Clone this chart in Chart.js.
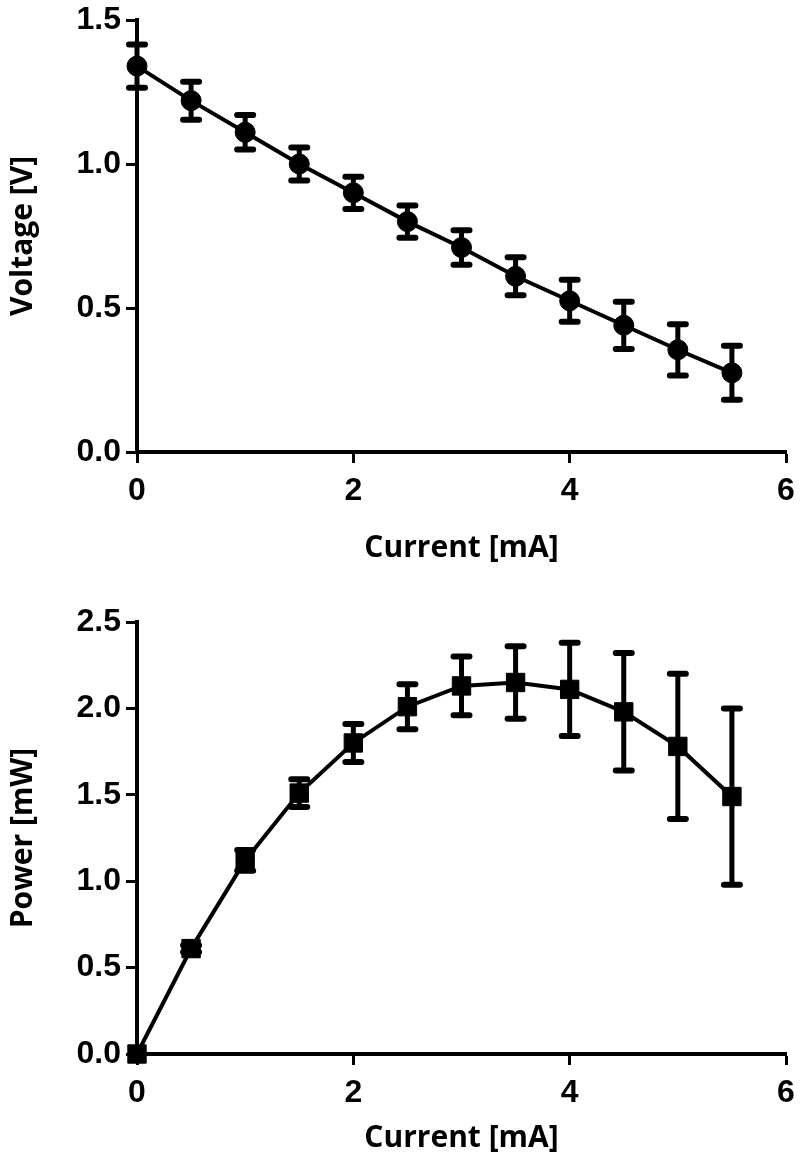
<!DOCTYPE html>
<html>
<head>
<meta charset="utf-8">
<script src="https://cdn.jsdelivr.net/npm/chart.js@4.4.1/dist/chart.umd.min.js"></script>
<style>
  html, body { margin: 0; padding: 0; background: #fff; }
  #top { position: absolute; left: 0; top: 0; }
  #bottom { position: absolute; left: 0; top: 580px; }
</style>
</head>
<body>
<canvas id="top" width="800" height="580"></canvas>
<canvas id="bottom" width="800" height="585"></canvas>
<script>
// data
const current = [0, 0.5, 1, 1.5, 2, 2.5, 3, 3.5, 4, 4.5, 5, 5.5];
const voltage = [1.34, 1.22, 1.11, 1.00, 0.90, 0.80, 0.71, 0.61, 0.525, 0.44, 0.355, 0.275];
const voltageErr = [0.075, 0.066, 0.06, 0.057, 0.056, 0.056, 0.06, 0.066, 0.073, 0.082, 0.089, 0.094];
const power = [0, 0.61, 1.12, 1.51, 1.80, 2.01, 2.13, 2.15, 2.11, 1.98, 1.78, 1.49];
const powerErr = [0, 0.02, 0.06, 0.08, 0.11, 0.13, 0.17, 0.21, 0.27, 0.34, 0.42, 0.51];
const voltageTicks = [0, 0.5, 1.0, 1.5];
const powerTicks = [0, 0.5, 1.0, 1.5, 2.0, 2.5];
const currentTicks = [0, 2, 4, 6];

const tickFont = { family: 'Liberation Sans, Arial, sans-serif', weight: 'bold', size: 32 };
const titleFont = { family: 'Open Sans, sans-serif', weight: 'bold', size: 30 };

// error bars drawn with the chart's own scales
const errorBars = {
  id: 'errorBars',
  afterDatasetsDraw(chart, args, opts) {
    const ctx = chart.ctx;
    const xs = chart.scales.x, ys = chart.scales.y;
    const pts = chart.data.datasets[0].data;
    ctx.save();
    ctx.strokeStyle = '#000';
    opts.err.forEach((e, i) => {
      if (!e) return;
      const px = xs.getPixelForValue(pts[i].x);
      const top = ys.getPixelForValue(pts[i].y + e);
      const bot = ys.getPixelForValue(pts[i].y - e);
      ctx.lineCap = 'butt';
      ctx.lineWidth = 5;
      ctx.beginPath(); ctx.moveTo(px, top); ctx.lineTo(px, bot); ctx.stroke();
      ctx.lineCap = 'round';
      ctx.lineWidth = 6;
      ctx.beginPath();
      ctx.moveTo(px - 8, top); ctx.lineTo(px + 8, top);
      ctx.moveTo(px - 8, bot); ctx.lineTo(px + 8, bot);
      ctx.stroke();
    });
    ctx.restore();
  }
};

function makeChart(id, ys, err, yTicks, yTitle, pointStyle, radius, padTop, xHeight, xTitlePad) {
  const yMax = yTicks[yTicks.length - 1];
  new Chart(document.getElementById(id), {
    type: 'line',
    data: {
      datasets: [{
        data: current.map((c, i) => ({ x: c, y: ys[i] })),
        borderColor: '#000',
        borderWidth: 4,
        backgroundColor: '#000',
        pointStyle: pointStyle,
        pointRadius: radius,
        pointBackgroundColor: '#000',
        pointBorderColor: '#000',
        pointBorderWidth: 1,
        tension: 0,
        clip: false
      }]
    },
    options: {
      responsive: false,
      animation: false,
      layout: { padding: { top: padTop, right: 14, left: 0, bottom: 0 } },
      plugins: {
        legend: { display: false },
        tooltip: { enabled: false },
        errorBars: { err: err }
      },
      scales: {
        x: {
          type: 'linear', min: 0, max: 6,
          afterFit(s) { s.height = xHeight; s.paddingLeft = 0; s.paddingRight = 0; },
          afterBuildTicks(s) { s.ticks = currentTicks.map(v => ({ value: v })); },
          ticks: { color: '#000', font: tickFont, padding: 9 },
          grid: { drawOnChartArea: false, tickLength: 11, tickWidth: 3, tickColor: '#000' },
          border: { color: '#000', width: 4 },
          title: { display: true, text: 'Current [mA]', color: '#000', font: titleFont, padding: { bottom: xTitlePad } }
        },
        y: {
          type: 'linear', min: 0, max: yMax,
          afterFit(s) { s.width = 137; s.paddingTop = 0; s.paddingBottom = 0; },
          afterBuildTicks(s) { s.ticks = yTicks.map(v => ({ value: v })); },
          ticks: { color: '#000', font: tickFont, padding: 5, callback: v => v.toFixed(1) },
          grid: { drawOnChartArea: false, tickLength: 11, tickWidth: 3, tickColor: '#000' },
          border: { color: '#000', width: 4 },
          title: { display: true, text: yTitle, color: '#000', font: titleFont, padding: { top: 5 } }
        }
      }
    },
    plugins: [errorBars]
  });
}

makeChart('top', voltage, voltageErr, voltageTicks, 'Voltage [V]', 'circle', 10, 20, 128, 14);
makeChart('bottom', power, powerErr, powerTicks, 'Power [mW]', 'rect', 13, 42, 111, 9);
</script>
</body>
</html>
